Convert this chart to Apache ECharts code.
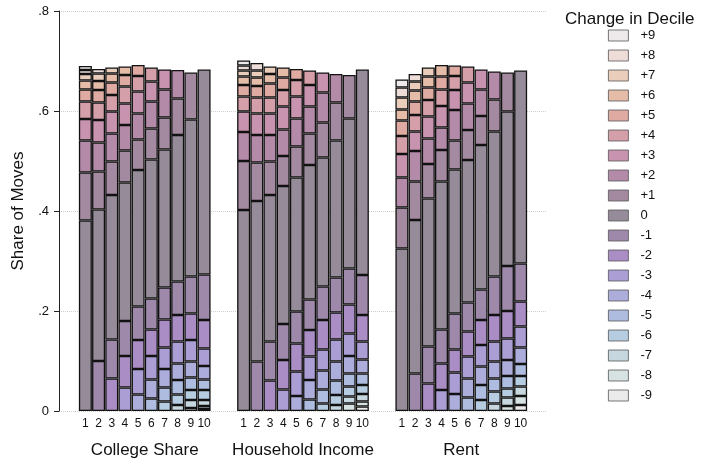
<!DOCTYPE html>
<html>
<head>
<meta charset="utf-8">
<script src="https://cdn.jsdelivr.net/npm/echarts@6/dist/echarts.min.js"></script>
<style>
  html, body { margin: 0; padding: 0; background: #fff; }
  #chart { width: 702px; height: 460px; }
</style>
</head>
<body>
<div id="chart"></div>
<script>
var groups = ['College Share', 'Household Income', 'Rent'];
var deciles = ['1', '2', '3', '4', '5', '6', '7', '8', '9', '10'];
var changes = ['-9', '-8', '-7', '-6', '-5', '-4', '-3', '-2', '-1', '0',
               '+1', '+2', '+3', '+4', '+5', '+6', '+7', '+8', '+9'];
var changeColors = ['#ebebeb', '#d7e2e2', '#c6d7df', '#b6cce0', '#adbcdf', '#adaddb', '#ab9ed5', '#a98dc4', '#9e89ab', '#958b99',
                    '#a48aa0', '#b48aa9', '#c793ae', '#d49fa9', '#deaaa2', '#e5bca7', '#ebcdbb', '#eddcd7', '#eeeaeb'];
var yTicks = [0, 0.2, 0.4, 0.6, 0.8];

// row d = origin decile d, shares for changes -(d-1) ... +(10-d)
var collegeShare = [
  [0.381, 0.096, 0.064, 0.043, 0.035, 0.024, 0.018, 0.013, 0.008, 0.008],
  [0.100, 0.303, 0.076, 0.058, 0.045, 0.035, 0.025, 0.018, 0.015, 0.009],
  [0.065, 0.078, 0.289, 0.067, 0.056, 0.044, 0.033, 0.025, 0.018, 0.012],
  [0.047, 0.063, 0.070, 0.277, 0.064, 0.051, 0.043, 0.034, 0.023, 0.017],
  [0.033, 0.051, 0.058, 0.067, 0.273, 0.061, 0.052, 0.044, 0.031, 0.022],
  [0.025, 0.038, 0.047, 0.053, 0.062, 0.278, 0.062, 0.054, 0.040, 0.028],
  [0.019, 0.028, 0.037, 0.043, 0.056, 0.064, 0.276, 0.064, 0.056, 0.040],
  [0.012, 0.021, 0.029, 0.033, 0.044, 0.053, 0.067, 0.293, 0.073, 0.057],
  [0.006, 0.016, 0.020, 0.025, 0.032, 0.043, 0.053, 0.074, 0.314, 0.094],
  [0.004, 0.006, 0.012, 0.020, 0.021, 0.027, 0.035, 0.057, 0.091, 0.410]
];
var householdIncome = [
  [0.402, 0.098, 0.058, 0.041, 0.030, 0.023, 0.017, 0.012, 0.010, 0.010],
  [0.099, 0.321, 0.077, 0.055, 0.043, 0.032, 0.023, 0.017, 0.014, 0.015],
  [0.061, 0.078, 0.293, 0.067, 0.053, 0.043, 0.032, 0.028, 0.019, 0.015],
  [0.043, 0.059, 0.072, 0.276, 0.060, 0.053, 0.046, 0.033, 0.025, 0.020],
  [0.030, 0.049, 0.056, 0.064, 0.268, 0.062, 0.056, 0.044, 0.033, 0.022],
  [0.023, 0.039, 0.047, 0.053, 0.061, 0.269, 0.063, 0.054, 0.043, 0.029],
  [0.015, 0.028, 0.038, 0.042, 0.059, 0.067, 0.258, 0.070, 0.060, 0.040],
  [0.012, 0.020, 0.029, 0.038, 0.044, 0.054, 0.070, 0.274, 0.076, 0.057],
  [0.015, 0.014, 0.020, 0.026, 0.035, 0.045, 0.058, 0.072, 0.300, 0.087],
  [0.009, 0.010, 0.015, 0.018, 0.023, 0.028, 0.036, 0.053, 0.080, 0.411]
];
var rent = [
  [0.325, 0.082, 0.060, 0.047, 0.036, 0.031, 0.022, 0.024, 0.020, 0.016],
  [0.075, 0.307, 0.077, 0.061, 0.039, 0.033, 0.027, 0.022, 0.018, 0.015],
  [0.055, 0.074, 0.296, 0.069, 0.051, 0.044, 0.033, 0.025, 0.022, 0.018],
  [0.042, 0.053, 0.068, 0.296, 0.063, 0.045, 0.043, 0.033, 0.026, 0.023],
  [0.034, 0.043, 0.046, 0.072, 0.288, 0.058, 0.061, 0.040, 0.028, 0.021],
  [0.027, 0.038, 0.044, 0.050, 0.058, 0.285, 0.060, 0.053, 0.042, 0.032],
  [0.022, 0.030, 0.037, 0.043, 0.050, 0.061, 0.289, 0.058, 0.053, 0.040],
  [0.015, 0.024, 0.026, 0.034, 0.040, 0.053, 0.077, 0.290, 0.064, 0.056],
  [0.010, 0.017, 0.018, 0.025, 0.032, 0.043, 0.055, 0.090, 0.309, 0.078],
  [0.012, 0.018, 0.019, 0.021, 0.024, 0.033, 0.042, 0.050, 0.076, 0.386]
];

var tables = [collegeShare, householdIncome, rent];
var slotsPerGroup = 12;   // 10 bars + 2 empty slots between groups

// x position of each bar on the value axis, and tick labels
var decileLabelAt = {};
var groupLabelAt = {};
groups.forEach(function (g, gi) {
  groupLabelAt[gi * slotsPerGroup + 6.5] = g;
  deciles.forEach(function (d, di) {
    decileLabelAt[gi * slotsPerGroup + di + 2] = d;
  });
});

// data items are [share, x] so the share is the stacked dimension
var series = changes.map(function (c, ci) {
  var change = ci - 9;
  var data = [];
  tables.forEach(function (rows, gi) {
    rows.forEach(function (row, di) {
      var j = change + di;     // index into row for this change
      var x = gi * slotsPerGroup + di + 2;
      data.push([(j >= 0 && j < row.length) ? row[j] : '-', x]);
    });
  });
  return {
    name: c,
    type: 'bar',
    stack: 'moves',
    barWidth: 13,
    encode: { x: 1, y: 0 },
    data: data,
    itemStyle: { color: changeColors[ci], borderColor: '#111', borderWidth: 1.3 }
  };
});

var font = 'Liberation Sans, Arial, Helvetica, sans-serif';
var myChart = echarts.init(document.getElementById('chart'));
var option = {
  animation: false,
  textStyle: { fontFamily: font },
  title: {
    text: 'Change in Decile',
    left: 560,
    top: 6,
    textStyle: { fontSize: 17, fontWeight: 'normal', color: '#111', fontFamily: font }
  },
  legend: {
    orient: 'vertical',
    left: 603,
    top: 24,
    itemWidth: 20,
    itemHeight: 11,
    itemGap: 7,
    icon: 'rect',
    data: changes.slice().reverse(),
    itemStyle: { borderColor: '#555', borderWidth: 0.8 },
    textStyle: { fontSize: 13, color: '#111', lineHeight: 12, padding: [0, 0, 0, 7], fontFamily: font }
  },
  grid: { left: 59, right: 155, top: 11, bottom: 49, outerBoundsMode: 'none' },
  xAxis: [{
    type: 'value',
    min: 0,
    max: 37,
    interval: 1,
    axisLine: { show: false },
    axisTick: { show: false },
    splitLine: { show: false },
    axisLabel: {
      margin: 7,
      fontSize: 12,
      color: '#111',
      formatter: function (v) { return decileLabelAt[v] || ''; }
    }
  }, {
    type: 'value',
    position: 'bottom',
    offset: 23,
    min: 0,
    max: 37,
    interval: 0.5,
    axisLine: { show: false },
    axisTick: { show: false },
    splitLine: { show: false },
    axisLabel: {
      margin: 8,
      fontSize: 17,
      color: '#111',
      formatter: function (v) { return groupLabelAt[v] || ''; }
    }
  }],
  yAxis: {
    type: 'value',
    min: yTicks[0],
    max: yTicks[yTicks.length - 1],
    interval: 0.2,
    name: 'Share of Moves',
    nameLocation: 'middle',
    nameGap: 32,
    nameTextStyle: { fontSize: 17, color: '#111', fontFamily: font },
    axisLine: { show: true, lineStyle: { color: '#222', width: 1 } },
    axisTick: { show: true, length: 5, lineStyle: { color: '#222' } },
    axisLabel: {
      fontSize: 13,
      color: '#111',
      margin: 10,
      formatter: function (v) {
        var s = String(+v.toFixed(1));
        return s === '0' ? '0' : s.replace(/^0\./, '.');
      }
    },
    splitLine: { show: true, lineStyle: { type: 'dotted', color: '#cfcfcf', width: 1 } }
  },
  series: series
};
myChart.setOption(option);
</script>
</body>
</html>
